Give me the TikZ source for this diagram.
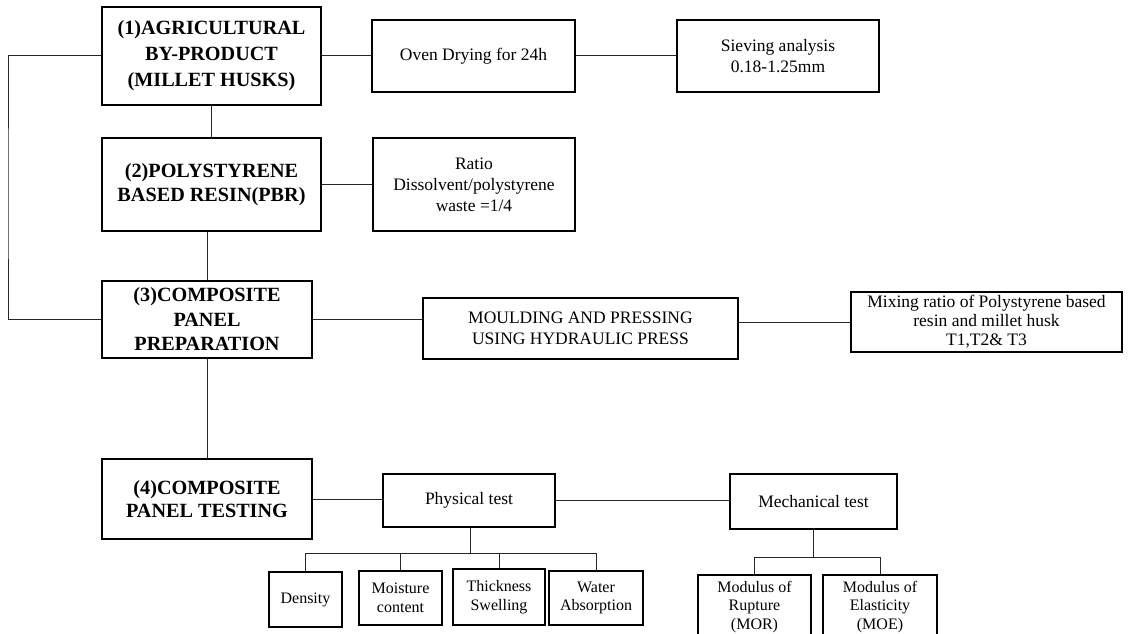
\documentclass[tikz,border=0pt]{standalone}
\usepackage{fontspec}
\setmainfont{Liberation Serif}
\begin{document}
\begin{tikzpicture}[x=1pt,y=-1pt,
  box/.style={draw=black,line width=1.2pt,align=center,inner sep=0pt,anchor=center},
  mainbox/.style={box,font=\fontsize{20.2}{24.5}\selectfont\bfseries},
  txtbox/.style={box,font=\fontsize{17.5}{21}\selectfont},
  smallbox/.style={box,font=\fontsize{16}{18.5}\selectfont},
  conn/.style={draw=black!85,line width=1pt}]
\clip (0,0) rectangle (1133,634);
% main column
\node[mainbox,minimum width=219pt,minimum height=98pt,font=\fontsize{20.2}{26}\selectfont\bfseries] (b1) at (211.5,56) {(1)AGRICULTURAL\\BY-PRODUCT\\(MILLET HUSKS)};
\node[mainbox,minimum width=219pt,minimum height=93pt] (b2) at (211.5,184.5) {(2)POLYSTYRENE\\BASED RESIN(PBR)};
\node[mainbox,minimum width=210pt,minimum height=77pt] (b3) at (207,319.5) {(3)COMPOSITE\\PANEL\\PREPARATION};
\node[mainbox,minimum width=210pt,minimum height=80pt,font=\fontsize{20.2}{23}\selectfont\bfseries] (b4) at (207,499) {(4)COMPOSITE\\PANEL TESTING};
% right side boxes
\node[txtbox,minimum width=203pt,minimum height=72pt] (oven) at (473.5,56) {Oven Drying for 24h};
\node[txtbox,minimum width=202pt,minimum height=72pt] (sieve) at (778,56) {Sieving analysis\\0.18-1.25mm};
\node[txtbox,minimum width=202pt,minimum height=93pt] (ratio) at (474,184.5) {Ratio\\Dissolvent/polystyrene\\waste =1/4};
\node[txtbox,minimum width=315pt,minimum height=61pt] (mould) at (580.5,328.5) {MOULDING AND PRESSING\\USING HYDRAULIC PRESS};
\node[txtbox,minimum width=271pt,minimum height=60pt,font=\fontsize{17.5}{19}\selectfont] (mix) at (986.5,322) {Mixing ratio of Polystyrene based\\resin and millet husk\\T1,T2\& T3};
\node[txtbox,minimum width=172pt,minimum height=53pt] (phys) at (469,500.5) {Physical test};
\node[txtbox,minimum width=167pt,minimum height=55pt] (mech) at (813.5,501.5) {Mechanical test};
% test children
\node[smallbox,minimum width=73pt,minimum height=55pt] (dens) at (305.5,599.5) {Density};
\node[smallbox,minimum width=83pt,minimum height=54pt] (moist) at (400.5,598) {Moisture\\content};
\node[smallbox,minimum width=92pt,minimum height=56pt] (thick) at (499,597) {Thickness\\Swelling};
\node[smallbox,minimum width=94pt,minimum height=54pt] (water) at (596,598) {Water\\Absorption};
\node[smallbox,minimum width=113pt,minimum height=64pt] (mor) at (754.5,607) {Modulus of\\Rupture\\(MOR)};
\node[smallbox,minimum width=114pt,minimum height=64pt] (moe) at (880,607) {Modulus of\\Elasticity\\(MOE)};
% helper coordinates
\coordinate (lft) at (8,200);
\coordinate (pbus) at (470,553);
\coordinate (mbus) at (813,557);
% connectors
\draw[conn] (b1.west) -| (lft) |- (b3.west);
\draw[conn] (b1.east) -- (b1.east -| oven.west);
\draw[conn] (oven.east) -- (sieve.west);
\draw[conn] (b1.south) -- (b2.north);
\draw[conn] (b2.east) -- (ratio.west);
\draw[conn] (b3.north |- b2.south) -- (b3.north);
\draw[conn] (b3.south) -- (b4.north);
\draw[conn] (b3.east) -- (b3.east -| mould.west);
\draw[conn] (mould.east |- mix.west) -- (mix.west);
\draw[conn] (b4.east) -- (b4.east -| phys.west);
\draw[conn] (phys.east) -- (phys.east -| mech.west);
\draw[conn] (phys.south -| pbus) -- (pbus);
\draw[conn] (dens.north) |- (pbus);
\draw[conn] (moist.north) |- (pbus);
\draw[conn] (thick.north) |- (pbus);
\draw[conn] (water.north) |- (pbus);
\draw[conn] (mech.south -| mbus) -- (mbus);
\draw[conn] (mor.north) |- (mbus);
\draw[conn] (moe.north) |- (mbus);
\end{tikzpicture}
\end{document}
